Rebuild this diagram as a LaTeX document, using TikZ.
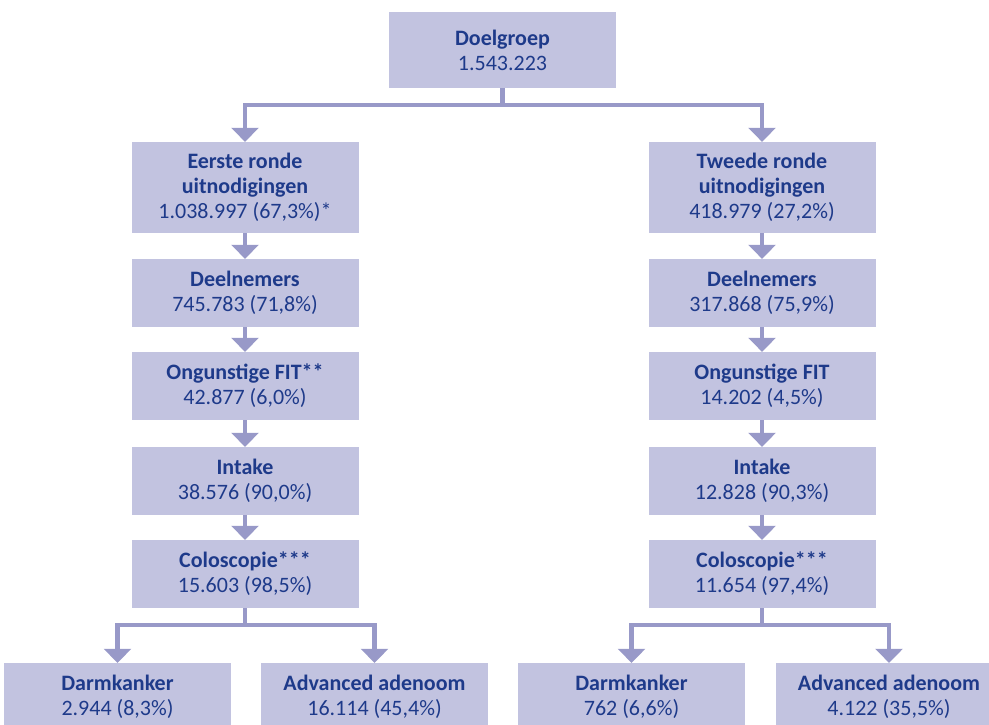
\documentclass[tikz,border=0pt]{standalone}
\usepackage{fontspec}
\setmainfont{Carlito}
\usetikzlibrary{arrows.meta}
\definecolor{boxfill}{RGB}{194,195,224}
\definecolor{linecol}{RGB}{152,153,200}
\definecolor{txtblue}{RGB}{30,58,138}
\begin{document}
\begin{tikzpicture} [x=1pt, y=-1pt,
	stap/.style={fill=boxfill, text=txtblue, inner sep=0pt, align=center,
		minimum width=227pt, minimum height=68pt,
		font=\fontsize{22}{25}\selectfont},
	pijl/.style={draw=linecol, line width=4.5pt, -{Triangle[width=27pt,length=14pt]}}]

			\clip (0,0) rectangle (989,724);

			\node [stap, minimum height=76pt] (doel) at (502.5,50) {\textbf{Doelgroep}\\1.543.223};

			% eerste ronde
			\node [stap, minimum height=91pt] (e1) at (245,187.5) {\textbf{Eerste ronde}\\\textbf{uitnodigingen}\\1.038.997 (67,3\%)*};
			\node [stap] (e2) at (245,293) {\textbf{Deelnemers}\\745.783 (71,8\%)};
			\node [stap] (e3) at (245,386) {\textbf{Ongunstige FIT**}\\42.877 (6,0\%)};
			\node [stap] (e4) at (245,481) {\textbf{Intake}\\38.576 (90,0\%)};
			\node [stap] (e5) at (245,574) {\textbf{Coloscopie***}\\15.603 (98,5\%)};
			\node [stap] (e6) at (117.5,697) {\textbf{Darmkanker}\\2.944 (8,3\%)};
			\node [stap] (e7) at (374.5,697) {\textbf{Advanced adenoom}\\16.114 (45,4\%)};

			% tweede ronde
			\node [stap, minimum height=91pt] (t1) at (762,187.5) {\textbf{Tweede ronde}\\\textbf{uitnodigingen}\\418.979 (27,2\%)};
			\node [stap] (t2) at (762,293) {\textbf{Deelnemers}\\317.868 (75,9\%)};
			\node [stap] (t3) at (762,386) {\textbf{Ongunstige FIT}\\14.202 (4,5\%)};
			\node [stap] (t4) at (762,481) {\textbf{Intake}\\12.828 (90,3\%)};
			\node [stap] (t5) at (762,574) {\textbf{Coloscopie***}\\11.654 (97,4\%)};
			\node [stap] (t6) at (631.5,697) {\textbf{Darmkanker}\\762 (6,6\%)};
			\node [stap] (t7) at (889,697) {\textbf{Advanced adenoom}\\4.122 (35,5\%)};

			\draw [pijl] (doel.south) -- ++(0,17) -| (e1.north);
			\draw [pijl] (doel.south) -- ++(0,17) -| (t1.north);

			\draw [pijl] (e1) -- (e2);
			\draw [pijl] (e2) -- (e3);
			\draw [pijl] (e3) -- (e4);
			\draw [pijl] (e4) -- (e5);
			\draw [pijl] (e5.south) -- ++(0,17) -| (e6.north);
			\draw [pijl] (e5.south) -- ++(0,17) -| (e7.north);

			\draw [pijl] (t1) -- (t2);
			\draw [pijl] (t2) -- (t3);
			\draw [pijl] (t3) -- (t4);
			\draw [pijl] (t4) -- (t5);
			\draw [pijl] (t5.south) -- ++(0,17) -| (t6.north);
			\draw [pijl] (t5.south) -- ++(0,17) -| (t7.north);
		\end{tikzpicture}
\end{document}
